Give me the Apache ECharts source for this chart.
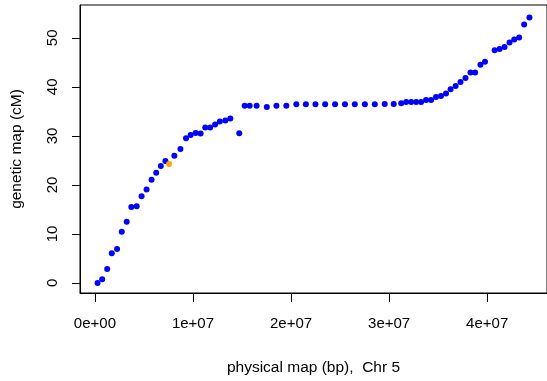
<!DOCTYPE html>
<html>
<head>
<meta charset="utf-8">
<script src="https://cdn.jsdelivr.net/npm/echarts@6/dist/echarts.min.js"></script>
<style>
html,body{margin:0;padding:0;background:#fff;}
#chart{width:547px;height:381px;}
</style>
</head>
<body>
<div id="chart"></div>
<script>
// physical position (Mb) and genetic position (cM) of markers, chromosome 5
var physMb = [0.27,0.74,1.25,1.72,2.26,2.74,3.24,3.71,4.26,4.76,5.27,5.78,6.25,6.72,7.19,8.10,8.72,9.29,9.76,10.27,10.78,11.25,11.75,12.26,12.74,13.30,13.81,14.72,15.27,15.78,16.49,17.53,18.51,19.52,20.54,21.51,22.49,23.48,24.49,25.50,26.50,27.53,28.54,29.55,30.47,31.24,31.74,32.25,32.76,33.26,33.77,34.28,34.78,35.29,35.80,36.27,36.78,37.28,37.79,38.30,38.77,39.31,39.78,40.76,41.27,41.77,42.28,42.76,43.26,43.77,44.31];
var geneticCM = [0.0,0.73,2.87,6.07,6.93,10.47,12.47,15.47,15.67,17.67,19.07,21.07,22.47,23.87,24.87,25.93,27.33,29.53,30.2,30.6,30.47,31.73,31.73,32.33,32.93,33.13,33.53,30.53,36.13,36.13,36.13,35.87,36.13,36.13,36.47,36.47,36.47,36.47,36.47,36.47,36.47,36.47,36.47,36.53,36.53,36.67,36.93,36.93,36.93,36.93,37.33,37.33,37.93,38.13,38.67,39.53,40.2,41.0,41.8,42.93,42.93,44.53,45.13,47.47,47.73,48.13,49.07,49.67,50.07,52.73,54.13];
// highlighted marker
var highlightMb = [7.56];
var highlightCM = [24.27];

var xTickValues = [0, 1e7, 2e7, 3e7, 4e7];
var xTickLabels = ["0e+00", "1e+07", "2e+07", "3e+07", "4e+07"];
var yTickValues = [0, 10, 20, 30, 40, 50];
var yTickLabels = ["0", "10", "20", "30", "40", "50"];

function pairs(xs, ys) {
  return xs.map(function (x, i) { return [x * 1e6, ys[i]]; });
}

var font = "Liberation Sans, Arial, Helvetica, sans-serif";
var chart = echarts.init(document.getElementById('chart'), null, {renderer: 'canvas'});
chart.setOption({
  animation: false,
  backgroundColor: '#ffffff',
  grid: {
    left: 80, right: -3, top: 5, bottom: 83.5,
    show: true, borderColor: '#000', borderWidth: 1, backgroundColor: 'transparent'
  },
  xAxis: {
    type: 'value',
    min: -0.152e7, max: 4.610e7,
    name: 'physical map (bp),  Chr 5',
    nameLocation: 'middle', nameGap: 67,
    nameTextStyle: {fontFamily: font, fontSize: 15.5, color: '#000'},
    axisLine: {show: true, onZero: false, lineStyle: {color: '#000', width: 1}},
    splitLine: {show: false},
    axisTick: {show: true, inside: false, length: 9, lineStyle: {color: '#000', width: 1}, customValues: xTickValues},
    axisLabel: {
      show: true, margin: 23, fontFamily: font, fontSize: 15, color: '#000',
      customValues: xTickValues,
      formatter: function (v) { var i = xTickValues.indexOf(v); return i >= 0 ? xTickLabels[i] : ''; }
    }
  },
  yAxis: {
    type: 'value',
    min: -2.05, max: 56.7,
    name: 'genetic map (cM)',
    nameLocation: 'middle', nameGap: 55,
    nameTextStyle: {fontFamily: font, fontSize: 15.5, color: '#000'},
    axisLine: {show: true, onZero: false, lineStyle: {color: '#000', width: 1}},
    splitLine: {show: false},
    axisTick: {show: true, inside: false, length: 8, lineStyle: {color: '#000', width: 1}, customValues: yTickValues},
    axisLabel: {
      show: true, margin: 20, rotate: 90, fontFamily: font, fontSize: 15, color: '#000',
      customValues: yTickValues,
      formatter: function (v) { var i = yTickValues.indexOf(v); return i >= 0 ? yTickLabels[i] : ''; }
    }
  },
  series: [
    {
      type: 'scatter', symbol: 'circle', symbolSize: 6,
      itemStyle: {color: '#0000ff', opacity: 1},
      data: pairs(physMb, geneticCM)
    },
    {
      type: 'scatter', symbol: 'circle', symbolSize: 6,
      itemStyle: {color: '#ffa500', opacity: 1},
      data: pairs(highlightMb, highlightCM)
    }
  ]
});
</script>
</body>
</html>
